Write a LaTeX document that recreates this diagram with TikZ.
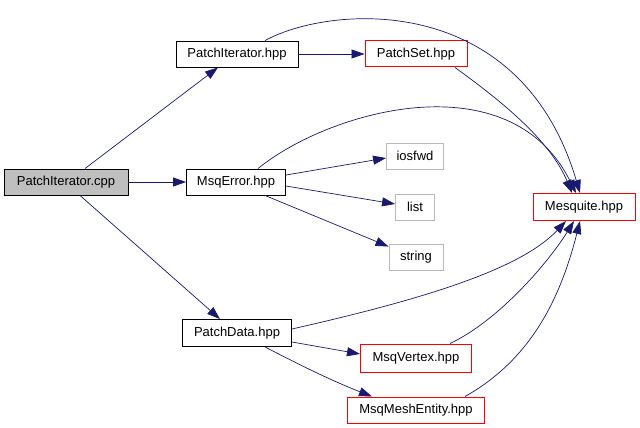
\documentclass[tikz,border=0pt]{standalone}
\usepackage{fontspec}
\setmainfont{Liberation Sans}
\usetikzlibrary{arrows.meta}
\definecolor{edgec}{HTML}{191970}
\definecolor{redc}{HTML}{FF0000}
\begin{document}
\begin{tikzpicture}[x=1pt,y=-1pt,
  box/.style={draw=black,fill=white,line width=0.9pt,inner sep=0pt,font=\fontsize{13}{15}\selectfont,minimum height=26pt},
  redbox/.style={draw=redc,fill=white,line width=1pt,inner sep=0pt,font=\fontsize{13}{15}\selectfont,minimum height=26pt},
  graybox/.style={box,draw=gray!55},
  edge/.style={draw=edgec,line width=0.7pt,-{Triangle[length=13pt,width=9pt]}}]
\useasboundingbox (0,0) rectangle (640,428);
\node[box,fill=gray!50,minimum width=124pt] (cpp) at (66,182) {PatchIterator.cpp};
\node[box,minimum width=99pt] (err) at (236,182) {MsqError.hpp};
\node[box,minimum width=122pt] (pit) at (237,54) {PatchIterator.hpp};
\node[graybox,minimum width=57pt] (ios) at (415,156) {iosfwd};
\node[graybox,minimum width=39pt] (list) at (415,207) {list};
\node[graybox,minimum width=54pt] (str) at (416,257) {string};
\node[redbox,minimum width=102pt,minimum height=27pt] (mesq) at (584,207) {Mesquite.hpp};
\node[box,minimum width=109pt,minimum height=27pt] (pd) at (237,333) {PatchData.hpp};
\node[redbox,minimum width=111pt,minimum height=28pt] (mv) at (416,358) {MsqVertex.hpp};
\node[redbox,minimum width=137pt] (mme) at (416,410) {MsqMeshEntity.hpp};
\node[redbox,minimum width=102pt] (pset) at (416,54) {PatchSet.hpp};

\path[edge] ([xshift=19pt]cpp.north) -- ([xshift=-19pt]pit.south);
\path[edge] (cpp) -- (err);
\path[edge] ([xshift=14pt]cpp.south) -- ([xshift=-17pt]pd.north);
\path[edge] (pit) -- (pset);
\path[edge] ([xshift=28pt]pit.north) .. controls (330,5) and (520,-10) .. ([xshift=-4pt]mesq.north);
\path[edge] ([xshift=39pt]pset.south) .. controls (500,100) and (550,140) .. ([xshift=-12pt]mesq.north);
\path[edge] ([xshift=22pt]err.north) .. controls (330,110) and (510,60) .. ([xshift=-8pt]mesq.north);
\path[edge] ([yshift=7pt]err.east) -- ([yshift=-2pt]ios.west);
\path[edge] ([yshift=-4pt]err.east) -- ([yshift=3pt]list.west);
\path[edge] ([xshift=29pt]err.south) -- ([yshift=-3pt]str.north west);
\path[edge] ([yshift=4pt]pd.east) .. controls (420,300) and (520,270) .. ([xshift=-18pt]mesq.south);
\path[edge] ([yshift=-9pt]pd.east) -- ([yshift=4pt]mv.west);
\path[edge] ([xshift=28pt]pd.south) .. controls (300,365) and (330,380) .. ([xshift=-44pt]mme.north);
\path[edge] ([xshift=34pt]mv.north) .. controls (500,320) and (550,260) .. ([xshift=-10pt]mesq.south);
\path[edge] ([xshift=49pt]mme.north) .. controls (530,360) and (560,300) .. ([xshift=-4pt]mesq.south);
\end{tikzpicture}
\end{document}
